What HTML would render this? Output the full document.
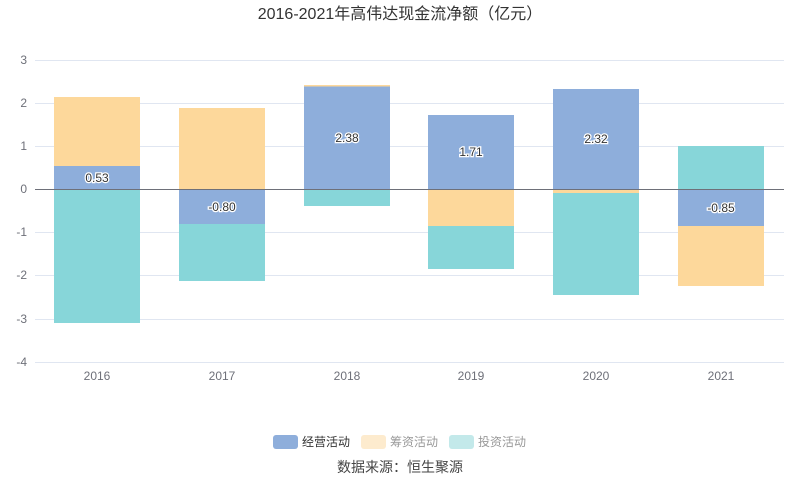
<!DOCTYPE html>
<html><head><meta charset="utf-8"><style>body{margin:0;background:#fff}svg{display:block}text{font-family:"Liberation Sans","Noto Sans CJK SC",sans-serif}</style></head><body>
<svg width="800" height="501" viewBox="0 0 800 501">
<text x="400" y="19" text-anchor="middle" font-size="16" fill="#333">2016-2021年高伟达现金流净额（亿元）</text>
<g stroke="#e0e6f1" stroke-width="1">
<line x1="35" x2="784" y1="60.5" y2="60.5"/><line x1="35" x2="784" y1="103.5" y2="103.5"/><line x1="35" x2="784" y1="146.5" y2="146.5"/><line x1="35" x2="784" y1="232.5" y2="232.5"/><line x1="35" x2="784" y1="275.5" y2="275.5"/><line x1="35" x2="784" y1="319.5" y2="319.5"/><line x1="35" x2="784" y1="362.5" y2="362.5"/>
</g>
<g font-size="12" fill="#6e7079" text-anchor="end">
<text x="27" y="64">3</text><text x="27" y="107">2</text><text x="27" y="150">1</text><text x="27" y="193">0</text><text x="27" y="236">-1</text><text x="27" y="279">-2</text><text x="27" y="323">-3</text><text x="27" y="366">-4</text>
</g>
<g>
<rect x="54" y="166" width="86" height="23" fill="#8eaedb"/>
<rect x="54" y="97" width="86" height="69" fill="#fdd89b"/>
<rect x="54" y="189" width="86" height="134" fill="#87d6d9"/>
<rect x="179" y="189" width="86" height="35" fill="#8eaedb"/>
<rect x="179" y="108" width="86" height="81" fill="#fdd89b"/>
<rect x="179" y="224" width="86" height="57" fill="#87d6d9"/>
<rect x="304" y="86" width="86" height="103" fill="#8eaedb"/>
<rect x="304" y="85" width="86" height="1.5" fill="#fdd89b"/>
<rect x="304" y="189" width="86" height="17" fill="#87d6d9"/>
<rect x="428" y="115" width="86" height="74" fill="#8eaedb"/>
<rect x="428" y="189" width="86" height="37" fill="#fdd89b"/>
<rect x="428" y="226" width="86" height="43" fill="#87d6d9"/>
<rect x="553" y="89" width="86" height="100" fill="#8eaedb"/>
<rect x="553" y="189" width="86" height="4" fill="#fdd89b"/>
<rect x="553" y="193" width="86" height="102" fill="#87d6d9"/>
<rect x="678" y="189" width="86" height="37" fill="#8eaedb"/>
<rect x="678" y="226" width="86" height="60" fill="#fdd89b"/>
<rect x="678" y="146" width="86" height="43" fill="#87d6d9"/>
</g>
<line x1="35" x2="784" y1="189.5" y2="189.5" stroke="#6e7079" stroke-width="1"/>
<g font-size="12" fill="#333" stroke="#fff" stroke-width="2.5" paint-order="stroke" text-anchor="middle">
<text x="97" y="182">0.53</text><text x="222" y="211">-0.80</text><text x="347" y="142">2.38</text><text x="471" y="156">1.71</text><text x="596" y="143">2.32</text><text x="721" y="212">-0.85</text>
</g>
<g font-size="12" fill="#6e7079" text-anchor="middle">
<text x="97" y="380">2016</text><text x="222" y="380">2017</text><text x="347" y="380">2018</text><text x="471" y="380">2019</text><text x="596" y="380">2020</text><text x="721" y="380">2021</text>
</g>
<rect x="273" y="435" width="25" height="14" rx="3" fill="#8eaedb"/>
<text x="302" y="446" font-size="12" fill="#333">经营活动</text>
<rect x="361" y="435" width="25" height="14" rx="3" fill="#fdebce"/>
<text x="390" y="446" font-size="12" fill="#999">筹资活动</text>
<rect x="449" y="435" width="25" height="14" rx="3" fill="#c3e9ea"/>
<text x="478" y="446" font-size="12" fill="#999">投资活动</text>
<text x="400" y="472" text-anchor="middle" font-size="14" fill="#444">数据来源：恒生聚源</text>
</svg>
</body></html>
